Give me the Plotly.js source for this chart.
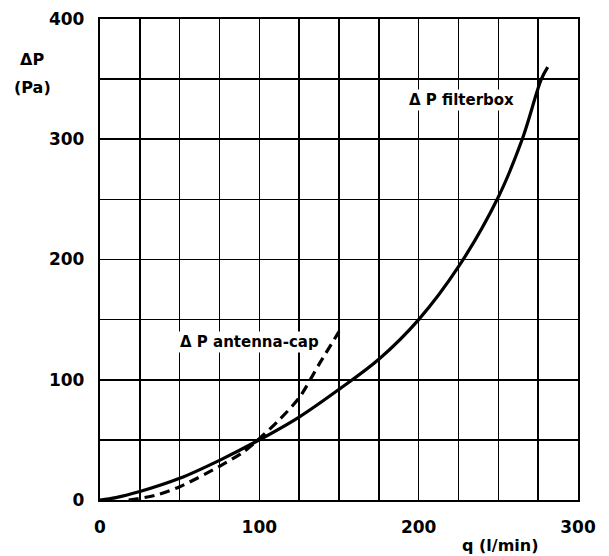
<!DOCTYPE html>
<html>
<head>
<meta charset="utf-8">
<script src="https://cdn.plot.ly/plotly-3.0.1.min.js"></script>
<style>html,body{margin:0;padding:0;background:#fff;}#chart{width:609px;height:556px;}</style>
</head>
<body>
<div id="chart"></div>
<script>
// Flow rate q (l/min) and pressure drop ΔP (Pa)
var filterboxQ = [0, 10, 25, 50, 75, 100, 125, 150, 175, 200, 225, 250, 265, 277, 281];
var filterboxP = [0, 2, 7, 18, 33, 50, 69, 92, 117, 150, 194, 252, 300, 350, 360];
var antennaQ = [18, 35, 50, 75, 90, 100, 112, 125, 138, 150];
var antennaP = [0, 4, 11, 28, 40, 51, 66, 85, 114, 140];
var xTickVals = [0, 25, 50, 75, 100, 125, 150, 175, 200, 225, 250, 275, 300];
var xTickText = ['0', '', '', '', '100', '', '', '', '200', '', '', '', '300'];
var yTickVals = [0, 50, 100, 150, 200, 250, 300, 350, 400];
var yTickText = ['0', '', '100', '', '200', '', '300', '', '400'];

var font = 'DejaVu Sans, Liberation Sans, Arial, sans-serif';

var traces = [
  {x: filterboxQ, y: filterboxP, mode: 'lines', line: {color: '#000', width: 3.2, shape: 'spline', smoothing: 1}, hoverinfo: 'skip'},
  {x: antennaQ, y: antennaP, mode: 'lines', line: {color: '#000', width: 3.2, dash: '10px,6px', shape: 'spline', smoothing: 0.8}, hoverinfo: 'skip'}
];

var pw = 609 - 100 - 31, ph = 556 - 19 - 56;
function px2paperX(px) { return (px - 100) / pw; }
function px2paperY(py) { return (556 - 56 - py) / ph; }

var layout = {
  width: 609, height: 556,
  margin: {l: 100, r: 31, t: 19, b: 56},
  paper_bgcolor: '#fff', plot_bgcolor: '#fff',
  showlegend: false,
  font: {family: font, color: '#000'},
  xaxis: {
    range: [0, 300], tickmode: 'array', tickvals: xTickVals, ticktext: xTickText,
    showgrid: true, gridcolor: '#000', gridwidth: 1.6,
    showline: true, linecolor: '#000', linewidth: 2.2, mirror: true,
    zeroline: false, ticks: '', ticklabelstandoff: 10,
    tickfont: {family: font, size: 17, color: '#000', weight: 'bold'}
  },
  yaxis: {
    range: [0, 400], tickmode: 'array', tickvals: yTickVals, ticktext: yTickText,
    showgrid: true, gridcolor: '#000', gridwidth: 1.6,
    showline: true, linecolor: '#000', linewidth: 2.2, mirror: true,
    zeroline: false, ticks: '', ticklabelstandoff: 10,
    tickfont: {family: font, size: 17, color: '#000', weight: 'bold'}
  },
  annotations: [
    {x: 227, y: 333, xref: 'x', yref: 'y', xanchor: 'center', yanchor: 'middle', text: 'Δ P filterbox', showarrow: false,
     bgcolor: '#fff', font: {family: font, size: 15, color: '#000', weight: 'bold'}},
    {x: 94, y: 131, xref: 'x', yref: 'y', xanchor: 'center', yanchor: 'middle', text: 'Δ P antenna-cap', showarrow: false,
     bgcolor: '#fff', font: {family: font, size: 15, color: '#000', weight: 'bold'}},
    {x: px2paperX(32), y: px2paperY(60), xref: 'paper', yref: 'paper', xanchor: 'center', yanchor: 'middle',
     text: 'ΔP', showarrow: false,
     font: {family: font, size: 16, color: '#000', weight: 'bold'}},
    {x: px2paperX(32), y: px2paperY(87), xref: 'paper', yref: 'paper', xanchor: 'center', yanchor: 'middle',
     text: '(Pa)', showarrow: false,
     font: {family: font, size: 16, color: '#000', weight: 'bold'}},
    {x: px2paperX(500), y: px2paperY(545), xref: 'paper', yref: 'paper', xanchor: 'center', yanchor: 'middle',
     text: 'q (l/min)', showarrow: false,
     font: {family: font, size: 16, color: '#000', weight: 'bold'}}
  ]
};

Plotly.newPlot('chart', traces, layout, {staticPlot: true});
</script>
</body>
</html>
